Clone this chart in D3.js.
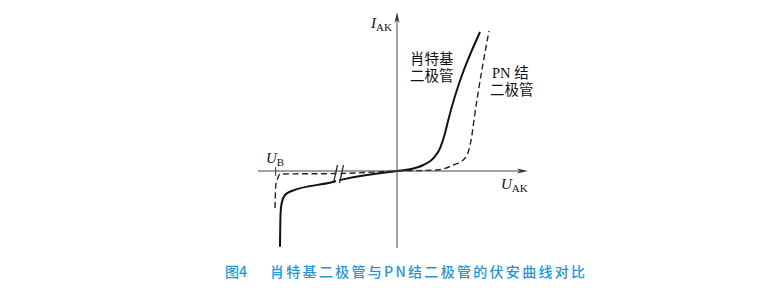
<!DOCTYPE html>
<html>
<head>
<meta charset="utf-8">
<script src="https://cdn.jsdelivr.net/npm/d3@7"></script>
<style>
  body { margin: 0; background: #fff; }
  svg { display: block; }
  .cjk { font-family: "Noto Sans CJK SC", sans-serif; }
  .mixed { font-family: "Liberation Serif", "Noto Sans CJK SC", serif; }
  .sym { font-family: "Liberation Serif", "DejaVu Serif", serif; }
</style>
</head>
<body>
<svg id="chart" width="768" height="288"></svg>
<script>
// Curves, in arbitrary units (U, I)
const schottky = [
  [-11.7, -7.57], [-11.65, -4.4], [-11.53, -3.2], [-11.2, -2.4], [-10.53, -2.0],
  [-6.53, -1.13], [-5.93, -0.97], [0, 0], [1.3, 0.17], [2.63, 0.6], [3.63, 1.27],
  [4.3, 2.27], [4.8, 3.77], [5.13, 5.1], [8.3, 13.9]
];
const pnJunction = [
  [-12.2, -3.7], [-12.12, -1.4], [-11.93, -0.73], [-11.7, -0.3], [-5.7, -0.25],
  [0, 0], [3.97, 0.1], [5.63, 0.6], [6.8, 1.27], [7.13, 1.93], [7.47, 3.43],
  [7.7, 5.1], [9.2, 14.0]
];
const breakdownU = -12.13;   // U_B tick
const axisBreakU = -5.85;    // where the "//" break sits on the U axis

const svg = d3.select('#chart');

const x = d3.scaleLinear().domain([-13.9, 13.1]).range([258, 528]);
const y = d3.scaleLinear().domain([-7.7, 15.9]).range([248, 12]);

const line = d3.line()
  .x(d => x(d[0]))
  .y(d => y(d[1]))
  .curve(d3.curveMonotoneX);

// curves
svg.append('path')
  .datum(pnJunction)
  .attr('d', line)
  .attr('fill', 'none')
  .attr('stroke', '#222')
  .attr('stroke-width', 1.4)
  .attr('stroke-dasharray', '6,3.5');

svg.append('path')
  .datum(schottky)
  .attr('d', line)
  .attr('fill', 'none')
  .attr('stroke', '#111')
  .attr('stroke-width', 2);

// gap in the curves at the axis break
const bx = x(axisBreakU);
svg.append('polygon')
  .attr('points', [[bx + 0.5, 165], [bx + 3.5, 165], [bx, 184], [bx - 3, 184]].join(' '))
  .attr('fill', '#fff');

// axes
const x0 = x(0), y0 = y(0);
svg.append('line')
  .attr('x1', x.range()[0]).attr('x2', x.range()[1] - 4)
  .attr('y1', y0).attr('y2', y0)
  .attr('stroke', '#444').attr('stroke-width', 1);
svg.append('line')
  .attr('x1', x0).attr('x2', x0)
  .attr('y1', y.range()[0]).attr('y2', y.range()[1] + 4)
  .attr('stroke', '#444').attr('stroke-width', 1);

// arrowheads
const xe = x.range()[1], yt = y.range()[1];
svg.append('path')
  .attr('d', `M${xe},${y0} L${xe - 11},${y0 - 2.5} L${xe - 8},${y0} L${xe - 11},${y0 + 2.5} Z`)
  .attr('fill', '#333');
svg.append('path')
  .attr('d', `M${x0},${yt} L${x0 - 2.5},${yt + 11} L${x0},${yt + 8} L${x0 + 2.5},${yt + 11} Z`)
  .attr('fill', '#333');

// break marks
[-3, 3].forEach(dx => {
  svg.append('line')
    .attr('x1', bx + dx + 2).attr('y1', 165)
    .attr('x2', bx + dx - 2).attr('y2', 183)
    .attr('stroke', '#222').attr('stroke-width', 1.2);
});

// U_B tick
svg.append('line')
  .attr('x1', x(breakdownU)).attr('x2', x(breakdownU))
  .attr('y1', y0 - 4).attr('y2', y0 + 5)
  .attr('stroke', '#333').attr('stroke-width', 1);

// axis labels
function symLabel(px, py, main, sub) {
  const t = svg.append('text').attr('class', 'sym').attr('x', px).attr('y', py)
    .attr('fill', '#111').style('font-size', '15px');
  t.append('tspan').style('font-style', 'italic').text(main);
  t.append('tspan').attr('dy', 3).style('font-size', '11px').text(sub);
}
symLabel(371, 28, 'I', 'AK');
symLabel(501, 189, 'U', 'AK');
symLabel(266, 163, 'U', 'B');

// curve labels
const labels = [
  { text: '肖特基', x: 410, y: 64 },
  { text: '二极管', x: 410, y: 81 },
  { text: 'PN 结', x: 492, y: 78 },
  { text: '二极管', x: 490, y: 95 }
];
svg.selectAll('.curve-label')
  .data(labels)
  .join('text')
  .attr('class', 'mixed curve-label')
  .attr('x', d => d.x)
  .attr('y', d => d.y)
  .attr('fill', '#111')
  .style('font-size', '14.5px')
  .text(d => d.text);

// caption
svg.append('text')
  .attr('class', 'cjk')
  .attr('x', 225).attr('y', 277)
  .attr('fill', '#2596d2')
  .style('font-size', '14px')
  .style('font-weight', '500')
  .text('图4');
svg.append('text')
  .attr('class', 'cjk')
  .attr('x', 270).attr('y', 277)
  .attr('fill', '#2596d2')
  .style('font-size', '14px')
  .style('font-weight', '500')
  .style('letter-spacing', '2.3px')
  .text('肖特基二极管与PN结二极管的伏安曲线对比');
</script>
</body>
</html>
